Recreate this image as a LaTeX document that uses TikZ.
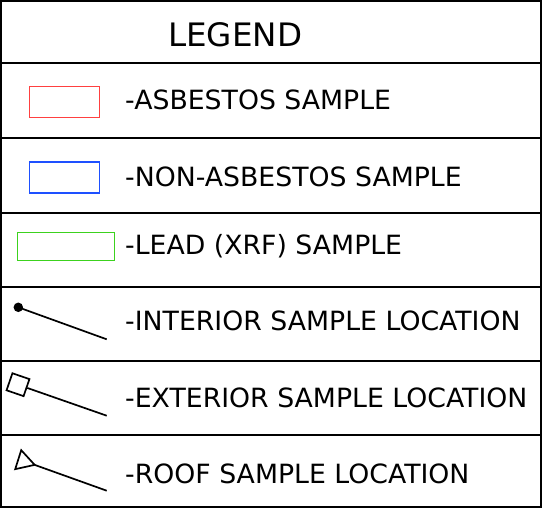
\documentclass[tikz,border=0pt]{standalone}
\usepackage{fontspec}
\setmainfont{DejaVu Sans}[FakeStretch=1.008]
\usetikzlibrary{shapes.geometric}
\definecolor{asbred}{RGB}{255,64,64}
\definecolor{nonblue}{RGB}{30,80,255}
\definecolor{leadgreen}{RGB}{60,210,30}
\tikzset{
  grid/.style={line width=2pt, draw=black},
  sample/.style={rectangle, line width=1.7pt, inner sep=0pt, outer sep=0pt,
    minimum width=70pt, minimum height=31pt},
  legtext/.style={anchor=base west, inner sep=0pt, font=\fontsize{26.5pt}{30pt}\selectfont},
  lead/.style={line width=1.7pt, draw=black},
  dotmark/.style={circle, fill=black, inner sep=0pt, minimum size=9.5pt},
  sqmark/.style={rectangle, draw=black, line width=1.7pt, fill=white, inner sep=0pt,
    minimum size=18pt},
  trimark/.style={regular polygon, regular polygon sides=3, draw=black, line width=1.7pt,
    inner sep=0pt, outer sep=0pt, minimum size=23pt},
}
\begin{document}
\begin{tikzpicture}[x=1pt, y=-1pt]
  \useasboundingbox (0,0) rectangle (542,508);
  % table frame and rows
  \draw[grid] (1,1) rectangle (541,507);
  \foreach \ry in {63.5,138.3,213.3,286.7,360.7,435}
    \draw[grid] (1,\ry) -- (541,\ry);
  \node[anchor=base west, inner sep=0pt, font=\fontsize{32.3pt}{36pt}\selectfont] (title) at (168,46.7) {LEGEND};
  % sample boxes
  \node[sample, draw=asbred] (asbbox) at (64.5,102) {};
  \node[legtext] (asb) at (125,109.3) {-ASBESTOS SAMPLE};
  \node[sample, draw=nonblue] (nonbox) at (64.5,177.5) {};
  \node[legtext] (non) at (125,186.7) {-NON-ASBESTOS SAMPLE};
  \node[sample, draw=leadgreen, minimum width=97pt, minimum height=28pt] (leadbox) at (66,246.5) {};
  \node[legtext] (leadtxt) at (125,254.3) {-LEAD (XRF) SAMPLE};
  % location markers
  \node[dotmark] (intdot) at (18.3,307.3) {};
  \coordinate (intend) at (106.7,339.3);
  \draw[lead] (intdot.center) -- (intend);
  \node[legtext] (inttxt) at (125,330.7) {-INTERIOR SAMPLE LOCATION};
  \node[sqmark, rotate=-19] (extsq) at (18,384.7) {};
  \coordinate (extend) at (106.7,415.7);
  \draw[lead] (extsq) -- (extend);
  \node[legtext] (exttxt) at (125,407.3) {-EXTERIOR SAMPLE LOCATION};
  \node[trimark, rotate=-107.6] (rooftri) at (23.7,461.4) {};
  \coordinate (roofend) at (106.7,490.7);
  \draw[lead] (rooftri.corner 1) -- (roofend);
  \node[legtext] (rooftxt) at (125,483.3) {-ROOF SAMPLE LOCATION};
\end{tikzpicture}
\end{document}
